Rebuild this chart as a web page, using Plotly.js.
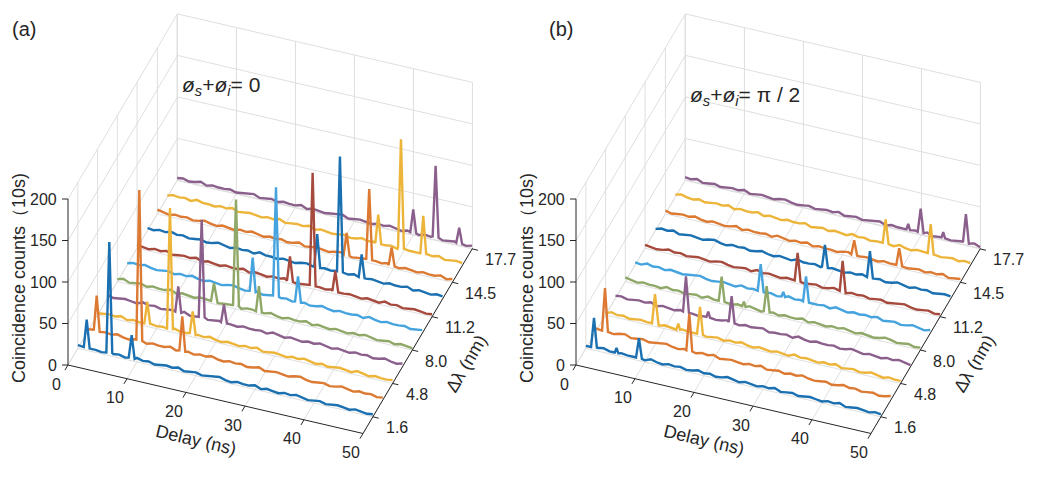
<!DOCTYPE html>
<html>
<head>
<meta charset="utf-8">
<script src="https://cdn.plot.ly/plotly-3.0.1.min.js"></script>
<style>html,body{margin:0;padding:0;background:#fff;}#chart{width:1038px;height:479px;}</style>
</head>
<body>
<div id="chart"></div>
<script>
// ---------------- DATA ----------------
// Δλ of each trace (nm), front to back
const dLambda = [1.6, 3.2, 4.8, 6.4, 8.0, 9.6, 11.2, 12.9, 14.5, 16.1, 17.7];
const lambdaTicks = [1.6, 4.8, 8.0, 11.2, 14.5, 17.7];
const lambdaTickText = ['1.6', '4.8', '8.0', '11.2', '14.5', '17.7'];
const delayTicks = [0, 10, 20, 30, 40, 50];
const countTicks = [0, 50, 100, 150, 200];
const colors = ['#1a70b0', '#dc7a33', '#edb43a', '#8b5f8c', '#8fa868', '#45a3de', '#a64a3e', '#1a70b0', '#dc7a33', '#edb43a', '#8b5f8c'];

// baseline samples: delay grid 0..50 ns, step 1 ns
const baseDelay = [0,1,2,3,4,5,6,7,8,9,10,11,12,13,14,15,16,17,18,19,20,21,22,23,24,25,26,27,28,29,30,31,32,33,34,35,36,37,38,39,40,41,42,43,44,45,46,47,48,49,50];

// panel (a): phase sum 0 — baseline counts
const baseA0 = [4,3,5,3,2,4,3,4,2,3, 5,3,4,2,3,4,3,5,2,3, 4,2,3,4,5,3,2,4,3,3, 5,2,4,3,2,4,3,5,3,2, 3,4,2,3,4,3,2,4,3,2, 3];
const baseA1 = [3,4,2,4,3,5,3,2,4,3, 2,4,3,3,5,2,3,4,2,4, 3,5,3,2,4,3,4,2,3,5, 2,3,4,3,2,4,5,3,2,3, 4,2,3,5,3,2,4,3,4,2, 3];
const baseA2 = [2,3,4,3,5,2,4,3,2,4, 3,4,2,5,3,3,2,4,3,5, 3,2,4,3,2,4,3,5,2,3, 4,3,2,4,3,5,3,2,4,2, 3,4,3,2,5,3,2,4,3,3, 4];
const baseA3 = [4,2,3,4,3,2,5,3,4,2, 3,4,3,5,2,3,4,2,3,4, 5,3,2,4,3,3,4,2,5,3, 2,4,3,2,4,3,5,3,2,4, 3,2,4,3,4,2,3,5,3,2, 4];
const baseA4 = [3,5,2,3,4,2,4,3,3,5, 2,4,3,2,4,3,5,2,3,4, 3,2,4,4,2,3,5,3,2,4, 3,3,5,2,4,3,2,4,3,2, 4,3,5,3,2,3,4,2,4,3, 2];
const baseA5 = [2,4,3,5,3,2,3,4,2,4, 3,5,3,2,4,3,2,4,5,3, 2,3,4,2,3,5,3,4,2,3, 4,2,3,5,3,2,4,3,3,4, 2,5,3,2,4,3,3,4,2,3, 4];
const baseA6 = [4,3,2,4,3,5,2,3,4,3, 5,2,4,3,2,4,3,3,5,2, 4,3,2,4,3,5,3,2,3,4, 2,4,3,5,2,3,4,3,2,4, 3,2,5,3,4,2,3,4,3,2, 3];
const baseA7 = [3,2,4,3,5,3,4,2,3,4, 2,3,5,3,2,4,3,4,2,5, 3,3,2,4,3,2,4,5,3,2, 4,3,4,2,3,5,2,3,4,3, 2,4,3,3,5,2,4,3,2,4, 3];
const baseA8 = [5,3,2,4,3,4,2,3,5,3, 2,4,3,2,4,3,5,3,2,4, 3,4,2,3,5,2,3,4,3,2, 4,5,3,2,3,4,2,4,3,5, 3,2,4,3,2,4,3,3,5,2, 4];
const baseA9 = [2,4,3,4,2,5,3,3,2,4, 3,5,2,3,4,3,2,4,3,5, 2,3,4,3,5,2,4,3,2,3, 4,2,3,5,3,4,2,3,4,2, 5,3,3,2,4,3,5,2,3,4, 3];
const baseA10 = [3,4,2,3,5,2,4,3,3,4, 2,3,4,5,2,3,4,2,4,3, 3,5,2,4,3,2,3,4,5,2, 3,4,3,2,4,3,5,3,2,4, 3,2,4,3,5,2,3,4,3,2, 4];

// panel (a): peaks as (left foot, top, right foot) — delay (ns) and counts
const peakXA0 = [1.0,1.5,2.0, 4.83,5.33,5.83, 8.62,9.12,9.62];
const peakYA0 = [3,37,3, 3,137,4, 3,31,3];
const peakXA1 = [1.02,1.52,2.02, 8.24,8.74,9.24, 15.53,16.03,16.53];
const peakYA1 = [3,46,3, 4,185,4, 3,45,3];
const peakXA2 = [7.92,8.42,8.92, 11.77,12.27,12.77, 15.62,16.12,16.62];
const peakYA2 = [3,30,3, 3,149,4, 4,31,3];
const peakXA3 = [11.5,12.0,12.5, 15.47,15.97,16.47, 19.25,19.75,20.25];
const peakYA3 = [3,34,3, 3,121,4, 3,25,3];
const peakXA4 = [15.88,16.38,16.88, 19.61,20.11,20.61, 23.5,24.0,24.5];
const peakYA4 = [3,25,3, 4,132,4, 3,34,3];
const peakXA5 = [20.77,21.27,21.77, 24.72,25.22,25.72, 28.45,28.95,29.45];
const peakYA5 = [3,44,3, 4,135,4, 3,34,3];
const peakXA6 = [25.42,25.92,26.42, 29.26,29.76,30.26, 33.1,33.6,34.1];
const peakYA6 = [3,33,3, 4,140,4, 3,28,3];
const peakXA7 = [28.26,28.76,29.26, 32.11,32.61,33.11, 35.79,36.29,36.79];
const peakYA7 = [3,43,3, 4,143,4, 3,31,3];
const peakXA8 = [31.57,32.07,32.57, 35.4,35.9,36.4, 39.2,39.7,40.2];
const peakYA8 = [3,30,3, 4,89,4, 3,25,3];
const peakXA9 = [35.26,35.76,36.26, 39.11,39.61,40.11, 42.89,43.39,43.89];
const peakYA9 = [3,38,3, 4,135,4, 3,49,3];
const peakXA10 = [39.52,40.02,40.52, 43.31,43.81,44.31, 47.31,47.81,48.31];
const peakYA10 = [3,31,3, 4,90,4, 3,22,3];

// panel (b): phase sum π/2 — baseline counts
const baseB0 = [3,2,4,5,3,2,4,3,3,4, 2,5,3,2,4,3,4,2,3,5, 3,4,2,3,5,3,2,4,3,2, 4,3,5,2,3,4,2,3,4,3, 2,4,3,5,2,3,4,3,2,4, 3];
const baseB1 = [4,3,3,2,4,5,2,3,4,2, 3,4,5,3,2,4,3,2,4,3, 5,2,3,4,3,2,4,3,5,2, 3,4,2,4,3,5,3,2,3,4, 2,3,5,3,4,2,3,4,2,3, 5];
const baseB2 = [2,5,3,4,2,3,4,3,5,2, 4,3,2,4,3,3,5,2,3,4, 2,4,3,5,3,2,4,3,2,4, 3,2,5,3,4,3,2,4,3,5, 2,3,4,2,3,5,3,2,4,3, 3];
const baseB3 = [3,4,2,3,4,3,5,2,4,3, 2,4,5,3,2,3,4,2,3,5, 3,2,4,3,4,5,2,3,3,4, 2,5,3,2,4,3,3,4,2,3, 5,3,2,4,3,2,4,3,5,3, 2];
const baseB4 = [5,3,2,4,3,3,2,5,3,4, 2,3,4,2,5,3,4,3,2,4, 3,5,3,2,3,4,2,4,3,3, 5,2,4,3,2,4,3,5,3,2, 4,3,2,3,5,4,2,3,4,2, 3];
const baseB5 = [3,2,5,3,4,2,4,3,2,3, 4,5,3,2,3,4,3,2,5,3, 4,2,3,4,2,3,5,3,4,2, 3,3,4,2,5,3,2,4,3,4, 3,5,2,3,4,2,3,5,3,2, 4];
const baseB6 = [4,3,2,3,5,3,4,2,3,4, 3,2,4,5,3,2,3,4,2,5, 3,4,3,2,4,3,5,2,3,4, 2,3,5,3,2,4,3,4,2,3, 4,2,3,4,5,3,2,3,4,2, 3];
const baseB7 = [2,4,3,5,2,3,4,3,2,4, 5,3,2,4,3,4,2,3,5,3, 2,4,3,2,5,3,3,4,2,3, 4,3,2,4,3,5,2,3,4,2, 3,5,3,2,4,3,4,2,3,4, 3];
const baseB8 = [4,2,3,4,3,5,3,2,4,3, 2,3,5,2,4,3,3,4,2,5, 3,2,4,3,5,2,4,3,3,2, 4,5,2,3,4,3,2,4,3,3, 5,2,3,4,2,4,3,5,2,3, 4];
const baseB9 = [3,5,3,2,4,2,3,4,3,5, 2,4,3,3,5,2,4,3,2,4, 3,3,5,2,3,4,2,4,3,2, 5,3,4,2,3,3,4,2,5,3, 2,4,3,5,3,2,3,4,2,4, 3];
const baseB10 = [4,3,5,2,3,4,2,3,4,3, 5,2,3,4,3,2,4,5,3,2, 3,4,2,3,4,3,5,2,3,4, 2,3,4,5,2,4,3,3,2,4, 3,5,2,3,4,2,3,4,3,5, 2];

// panel (b): peaks as (left foot, top, right foot)
const peakXB0 = [0.88,1.38,1.88, 4.9,5.2,5.5, 8.5,9.0,9.5];
const peakYB0 = [3,39,3, 3,9,3, 3,27,3];
const peakXB1 = [1.07,1.57,2.07, 15.36,15.86,16.36];
const peakYB1 = [3,55,3, 3,48,3];
const peakXB2 = [7.87,8.37,8.87, 12.02,12.32,12.62, 15.5,16.0,16.5];
const peakYB2 = [3,39,3, 3,10,3, 3,36,3];
const peakXB3 = [11.45,11.95,12.45, 15.43,15.73,16.03, 19.19,19.69,20.19];
const peakYB3 = [3,46,3, 3,10,3, 3,35,3];
const peakXB4 = [15.83,16.33,16.83, 19.8,20.1,20.4, 23.46,23.96,24.46];
const peakYB4 = [3,33,3, 3,9,3, 3,34,3];
const peakXB5 = [20.77,21.27,21.77, 24.8,25.1,25.4, 28.45,28.95,29.45];
const peakYB5 = [3,36,3, 3,9,3, 3,34,3];
const peakXB6 = [25.36,25.86,26.36, 32.99,33.49,33.99];
const peakYB6 = [3,37,3, 3,40,3];
const peakXB7 = [28.21,28.71,29.21, 35.84,36.34,36.84];
const peakYB7 = [3,30,3, 3,35,3];
const peakXB8 = [31.5,32.0,32.5, 39.13,39.63,40.13];
const peakYB8 = [3,21,3, 3,24,3];
const peakXB9 = [35.16,35.66,36.16, 42.79,43.29,43.79];
const peakYB9 = [3,32,3, 3,39,3];
const peakXB10 = [37.51,37.81,38.11, 39.42,39.92,40.42, 43.45,43.75,44.05, 47.09,47.59,48.09];
const peakYB10 = [3,10,3, 3,32,3, 3,10,3, 3,38,3];

// ---------------- VIEW (orthographic projection of the 3-D box) ----------------
const VIEW = { az: 20.33, el: 38.8 };          // degrees
const BOX = { lx: 314.6, ly: 315, lz: 213 };     // box edge lengths, px
const delayRange = [0, 50], lambdaRange = [0, 17.75], countRange = [0, 200];
const ORIGINS = [[68, 114], [576, 114]];         // front-left-bottom corner of each panel (px, y up)

const T = VIEW.az * Math.PI / 180, P = VIEW.el * Math.PI / 180;
function proj(o, d, L, z) {
  const fx = (d - delayRange[0]) / (delayRange[1] - delayRange[0]);
  const fy = (L - lambdaRange[0]) / (lambdaRange[1] - lambdaRange[0]);
  const fz = (z - countRange[0]) / (countRange[1] - countRange[0]);
  return [
    o[0] + fx * BOX.lx * Math.cos(T) + fy * BOX.ly * Math.sin(T),
    o[1] - fx * BOX.lx * Math.sin(T) * Math.sin(P) + fy * BOX.ly * Math.cos(T) * Math.sin(P) + fz * BOX.lz * Math.cos(P)
  ];
}

const panels = [
  { base: [baseA0, baseA1, baseA2, baseA3, baseA4, baseA5, baseA6, baseA7, baseA8, baseA9, baseA10],
    px: [peakXA0, peakXA1, peakXA2, peakXA3, peakXA4, peakXA5, peakXA6, peakXA7, peakXA8, peakXA9, peakXA10],
    py: [peakYA0, peakYA1, peakYA2, peakYA3, peakYA4, peakYA5, peakYA6, peakYA7, peakYA8, peakYA9, peakYA10] },
  { base: [baseB0, baseB1, baseB2, baseB3, baseB4, baseB5, baseB6, baseB7, baseB8, baseB9, baseB10],
    px: [peakXB0, peakXB1, peakXB2, peakXB3, peakXB4, peakXB5, peakXB6, peakXB7, peakXB8, peakXB9, peakXB10],
    py: [peakYB0, peakYB1, peakYB2, peakYB3, peakYB4, peakYB5, peakYB6, peakYB7, peakYB8, peakYB9, peakYB10] }
];

function buildSeries(base, px, py) {
  const pts = [];
  for (let i = 0; i < baseDelay.length; i++) {
    const g = baseDelay[i];
    let inside = false;
    for (let k = 0; k < px.length; k += 3) if (g > px[k] && g < px[k + 2]) inside = true;
    if (!inside) pts.push([g, base[i]]);
  }
  for (let k = 0; k < px.length; k++) pts.push([px[k], py[k]]);
  pts.sort((a, b) => a[0] - b[0]);
  return pts;
}

const FONT = 'Liberation Sans, Arial, Helvetica, sans-serif';
const INK = '#262626';
const traces = [];
const annotations = [];

function segTrace(segs, color, width) {
  const x = [], y = [];
  segs.forEach(s => { x.push(s[0][0], s[1][0], null); y.push(s[0][1], s[1][1], null); });
  return { type: 'scatter', mode: 'lines', x, y, line: { color, width }, hoverinfo: 'skip', showlegend: false, connectgaps: false };
}

panels.forEach((panel, pi) => {
  const o = ORIGINS[pi];
  const d0 = delayRange[0], d1 = delayRange[1], L0 = lambdaRange[0], L1 = lambdaRange[1], z0 = countRange[0], z1 = countRange[1];
  // grid on floor, back wall, left wall
  const grid = [];
  delayTicks.forEach(d => {
    grid.push([proj(o, d, L0, z0), proj(o, d, L1, z0)]);
    grid.push([proj(o, d, L1, z0), proj(o, d, L1, z1)]);
  });
  lambdaTicks.forEach(L => {
    grid.push([proj(o, d0, L, z0), proj(o, d1, L, z0)]);
    grid.push([proj(o, d0, L, z0), proj(o, d0, L, z1)]);
  });
  countTicks.forEach(z => {
    grid.push([proj(o, d0, L1, z), proj(o, d1, L1, z)]);
    grid.push([proj(o, d0, L0, z), proj(o, d0, L1, z)]);
  });
  grid.push([proj(o, d0, L1, z0), proj(o, d0, L1, z1)]);
  traces.push(segTrace(grid, '#dfdfdf', 1));

  // axis lines and tick marks
  const ax = [];
  ax.push([proj(o, d0, L0, z0), proj(o, d0, L0, z1)]);
  ax.push([proj(o, d0, L0, z0), proj(o, d1, L0, z0)]);
  ax.push([proj(o, d1, L0, z0), proj(o, d1, L1, z0)]);
  const TL = 6;
  countTicks.forEach(z => { const p = proj(o, d0, L0, z); ax.push([p, [p[0] - TL, p[1]]]); });
  const lv = [Math.sin(T), Math.cos(T) * Math.sin(P)], lvn = Math.hypot(lv[0], lv[1]);
  delayTicks.forEach(d => { const p = proj(o, d, L0, z0); ax.push([p, [p[0] - TL * lv[0] / lvn, p[1] - TL * lv[1] / lvn]]); });
  const dv = [Math.cos(T), -Math.sin(T) * Math.sin(P)], dvn = Math.hypot(dv[0], dv[1]);
  lambdaTicks.forEach(L => { const p = proj(o, d1, L, z0); ax.push([p, [p[0] + TL * dv[0] / dvn, p[1] + TL * dv[1] / dvn]]); });
  traces.push(segTrace(ax, INK, 1));

  // tick labels
  countTicks.forEach(z => { const p = proj(o, d0, L0, z);
    annotations.push({ x: p[0] - 9, y: p[1], xanchor: 'right', yanchor: 'middle', text: String(z), showarrow: false, font: { family: FONT, size: 16, color: INK } }); });
  delayTicks.forEach(d => { const p = proj(o, d, L0, z0);
    annotations.push({ x: p[0] - 12, y: p[1] - 19, xanchor: 'center', yanchor: 'middle', text: String(d), showarrow: false, font: { family: FONT, size: 16, color: INK } }); });
  lambdaTicks.forEach((L, i) => { const p = proj(o, d1, L, z0);
    annotations.push({ x: p[0] + 11, y: p[1] - 11, xanchor: 'left', yanchor: 'middle', text: lambdaTickText[i], showarrow: false, font: { family: FONT, size: 16, color: INK } }); });

  // axis titles
  const angX = Math.atan2(BOX.lx * Math.sin(T) * Math.sin(P), BOX.lx * Math.cos(T)) * 180 / Math.PI;
  const angY = -Math.atan2(BOX.ly * Math.cos(T) * Math.sin(P), BOX.ly * Math.sin(T)) * 180 / Math.PI;
  annotations.push({ x: o[0] + 128, y: o[1] - 75, xanchor: 'center', yanchor: 'middle', textangle: angX, text: 'Delay (ns)', showarrow: false, font: { family: FONT, size: 18, color: INK } });
  annotations.push({ x: o[0] + 398, y: o[1] + 1, xanchor: 'center', yanchor: 'middle', textangle: angY, text: 'Δλ (nm)', showarrow: false, font: { family: FONT, size: 18, color: INK } });
  annotations.push({ x: o[0] - 49, y: o[1] + 87, xanchor: 'center', yanchor: 'middle', textangle: -90, text: 'Coincidence counts（10s)', showarrow: false, font: { family: FONT, size: 18, color: INK } });

  // data traces, back to front
  for (let i = dLambda.length - 1; i >= 0; i--) {
    const pts = buildSeries(panel.base[i], panel.px[i], panel.py[i]);
    const xy = pts.map(p => proj(o, p[0], dLambda[i], p[1]));
    traces.push({ type: 'scatter', mode: 'lines', x: xy.map(q => q[0]), y: xy.map(q => q[1]),
      line: { color: colors[i], width: 2.4 }, hoverinfo: 'skip', showlegend: false });
  }
});

annotations.forEach(a => { a.xref = 'x'; a.yref = 'y'; });
annotations.push(
  { xref: 'paper', yref: 'paper', x: 0.010, y: 0.94, xanchor: 'left', yanchor: 'middle', showarrow: false, text: '(a)', font: { family: FONT, size: 20, color: INK } },
  { xref: 'paper', yref: 'paper', x: 0.527, y: 0.94, xanchor: 'left', yanchor: 'middle', showarrow: false, text: '(b)', font: { family: FONT, size: 20, color: INK } },
  { xref: 'paper', yref: 'paper', x: 0.173, y: 0.82, xanchor: 'left', yanchor: 'middle', showarrow: false, text: '<i>ø</i><sub><i>s</i></sub>+<i>ø</i><sub><i>i</i></sub>= 0', font: { family: FONT, size: 21, color: INK } },
  { xref: 'paper', yref: 'paper', x: 0.663, y: 0.80, xanchor: 'left', yanchor: 'middle', showarrow: false, text: '<i>ø</i><sub><i>s</i></sub>+<i>ø</i><sub><i>i</i></sub>= π / 2', font: { family: FONT, size: 21, color: INK } }
);

const layout = {
  width: 1038, height: 479,
  margin: { l: 0, r: 0, t: 0, b: 0 },
  paper_bgcolor: '#ffffff', plot_bgcolor: '#ffffff',
  showlegend: false,
  xaxis: { range: [0, 1038], visible: false, fixedrange: true },
  yaxis: { range: [0, 479], visible: false, fixedrange: true },
  annotations
};

Plotly.newPlot('chart', traces, layout, { staticPlot: true, displayModeBar: false });
</script>
</body>
</html>
